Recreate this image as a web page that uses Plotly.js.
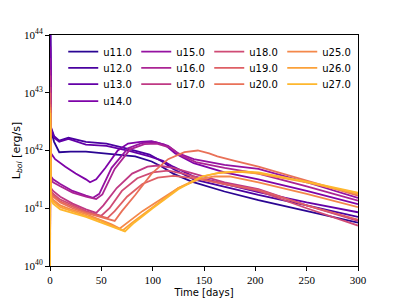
<!DOCTYPE html>
<html><head><meta charset="utf-8">
<script src="https://cdn.plot.ly/plotly-3.0.1.min.js"></script>
<style>html,body{margin:0;padding:0;background:#fff}#chart{width:399px;height:299px}</style>
</head><body><div id="chart"></div>
<script>
// Series names (legend labels)
const seriesNames = ['u11.0','u12.0','u13.0','u14.0','u15.0','u16.0','u17.0','u18.0','u19.0','u20.0','u25.0','u26.0','u27.0'];

// Time [days] and log10(L_bol [erg/s]) for each model
const t_u11 = [0,0.3,1,4,9,20,35,50,65,83,99,109,120,138,170,203,250,300];
const logL_u11 = [39,44.3,42.35,42.15,41.97,41.98,41.98,41.95,41.93,41.9,41.81,41.72,41.6,41.46,41.29,41.14,40.95,40.75];

const t_u12 = [0,0.3,1,4,9,18,35,55,78,97,110,120,140,170,203,250,300];
const logL_u12 = [39,44.2,42.4,42.25,42.17,42.22,42.15,42.12,42.02,41.93,41.8,41.68,41.5,41.37,41.23,41.05,40.85];

const t_u13 = [0,0.3,1,4,9,18,35,55,78,97,110,120,140,170,203,250,300];
const logL_u13 = [39,44.0,42.38,42.22,42.15,42.2,42.1,42.08,41.99,41.9,41.82,41.72,41.55,41.42,41.28,41.1,40.93];

const t_u14 = [0,0.3,1,5,15,25,35,39,45,54,66,76,88,99,112,122,140,170,203,250,300];
const logL_u14 = [39,43.8,41.95,41.85,41.72,41.6,41.5,41.45,41.5,41.7,42.0,42.12,42.15,42.16,42.1,41.95,41.78,41.62,41.5,41.3,41.07];

const t_u15 = [0,0.3,1,3,10,22,35,42,48,60,76,90,102,115,125,140,170,203,250,300];
const logL_u15 = [39,43.6,41.55,41.5,41.42,41.3,41.22,41.18,41.25,41.7,42.04,42.13,42.15,42.08,41.95,41.85,41.75,41.68,41.45,41.18];

const t_u16 = [0,0.3,1,3,10,22,35,45,51,63,78,92,104,117,127,142,170,203,250,300];
const logL_u16 = [39,43.4,41.5,41.45,41.38,41.27,41.2,41.16,41.24,41.68,42.02,42.11,42.12,42.05,41.92,41.8,41.7,41.6,41.38,41.13];

const t_u17 = [0,0.3,1,3,10,22,35,45,52,65,80,95,105,120,140,170,203,250,300];
const logL_u17 = [39,43.3,41.35,41.3,41.2,41.08,40.98,40.92,41.05,41.35,41.6,41.72,41.74,41.7,41.6,41.45,41.33,41.05,40.78];

const t_u18 = [0,0.3,1,3,10,22,35,50,58,70,85,100,115,130,150,170,203,250,300];
const logL_u18 = [39,43.1,41.3,41.25,41.15,41.05,40.95,40.87,41.0,41.3,41.52,41.62,41.65,41.6,41.5,41.42,41.3,41.0,40.7];

const t_u19 = [0,0.3,1,3,10,22,35,50,56,63,75,90,105,120,140,170,203,250,300];
const logL_u19 = [39,43.0,41.28,41.22,41.12,41.03,40.93,40.86,40.83,40.95,41.2,41.42,41.53,41.56,41.52,41.42,41.32,41.05,40.8];

const t_u20 = [0,0.3,1,3,10,22,35,50,63,70,83,99,115,131,144,155,163,180,203,250,300];
const logL_u20 = [39,42.8,41.25,41.2,41.1,41.0,40.92,40.85,40.78,40.95,41.23,41.6,41.85,41.97,42.0,41.95,41.9,41.82,41.72,41.48,41.22];

const t_u25 = [0,0.3,1,3,10,22,35,50,60,68,75,90,105,125,145,160,175,203,250,300];
const logL_u25 = [39,42.75,41.22,41.15,41.05,40.97,40.9,40.8,40.72,40.65,40.75,40.95,41.12,41.35,41.5,41.55,41.55,41.45,41.25,41.02];

const t_u26 = [0,0.3,1,3,10,22,35,50,60,71,80,99,125,148,164,185,203,250,300];
const logL_u26 = [39,42.7,41.18,41.12,41.02,40.95,40.88,40.78,40.7,40.62,40.75,41.0,41.35,41.55,41.61,41.63,41.6,41.45,41.25];

const t_u27 = [0,0.3,1,3,10,22,35,50,60,73,82,100,125,148,166,188,203,250,300];
const logL_u27 = [39,42.65,41.15,41.08,40.98,40.92,40.85,40.75,40.68,40.6,40.75,41.0,41.33,41.55,41.62,41.64,41.62,41.46,41.27];

const timeSeries = [t_u11,t_u12,t_u13,t_u14,t_u15,t_u16,t_u17,t_u18,t_u19,t_u20,t_u25,t_u26,t_u27];
const logLSeries = [logL_u11,logL_u12,logL_u13,logL_u14,logL_u15,logL_u16,logL_u17,logL_u18,logL_u19,logL_u20,logL_u25,logL_u26,logL_u27];

// Axis ticks
const xTicks = [0,50,100,150,200,250,300];
const yTickExps = [40,41,42,43,44];

// Styles (plasma colormap samples)
const colors = ['#2a0593','#4a02a0','#6300a7','#7e03a8','#9512a1','#ab2494','#bf3984','#cf4b75','#de5f65','#e97158','#f4884a','#fba139','#feb72d'];
const legendRows = ['legend','legend2','legend3','legend4','legend','legend2','legend3','legend','legend2','legend3','legend','legend2','legend3'];

const traces = seriesNames.map((name, i) => ({
  type: 'scatter', mode: 'lines', name: name,
  x: timeSeries[i],
  y: logLSeries[i].map(v => Math.pow(10, v)),
  line: {color: colors[i], width: 1.8},
  legend: legendRows[i],
  hoverinfo: 'skip'
}));

const serif = 'Liberation Serif, DejaVu Serif, serif';
const sans = 'DejaVu Sans, sans-serif';

function mkLegend(yc) {
  return {
    orientation: 'h', x: 0.043, xanchor: 'left', y: yc, yanchor: 'middle',
    bgcolor: 'rgba(0,0,0,0)', borderwidth: 0,
    font: {family: sans, size: 10, color: '#000'},
    entrywidth: 28, entrywidthmode: 'pixels', itemwidth: 30,
    traceorder: 'normal', itemclick: false
  };
}

const layout = {
  width: 399, height: 299,
  margin: {l: 50, r: 41, t: 35, b: 33},
  paper_bgcolor: '#fff', plot_bgcolor: '#fff',
  showlegend: true,
  legend: mkLegend(0.928),
  legend2: mkLegend(0.858),
  legend3: mkLegend(0.787),
  legend4: mkLegend(0.714),
  xaxis: {
    range: [0, 300], tickvals: xTicks, ticktext: xTicks.map(String),
    showgrid: false, zeroline: false,
    showline: true, linecolor: '#000', linewidth: 1, mirror: true,
    ticks: 'outside', ticklen: 4, tickwidth: 1, tickcolor: '#000',
    tickfont: {family: serif, size: 11, color: '#000'},
    title: {text: 'Time [days]', font: {family: sans, size: 10, color: '#000'}, standoff: 3}
  },
  yaxis: {
    type: 'log', range: [40, 44],
    tickvals: yTickExps.map(e => Math.pow(10, e)),
    ticktext: yTickExps.map(e => '10<sup>' + e + '</sup>'),
    showgrid: false, zeroline: false,
    showline: true, linecolor: '#000', linewidth: 1, mirror: true,
    ticks: 'outside', ticklen: 4, tickwidth: 1, tickcolor: '#000',
    tickfont: {family: serif, size: 11, color: '#000'},
    title: {text: 'L<sub><i>bol</i></sub> [erg/s]', font: {family: sans, size: 11, color: '#000'}, standoff: 1}
  }
};

Plotly.newPlot('chart', traces, layout, {staticPlot: true, displayModeBar: false});
</script>
</body></html>
